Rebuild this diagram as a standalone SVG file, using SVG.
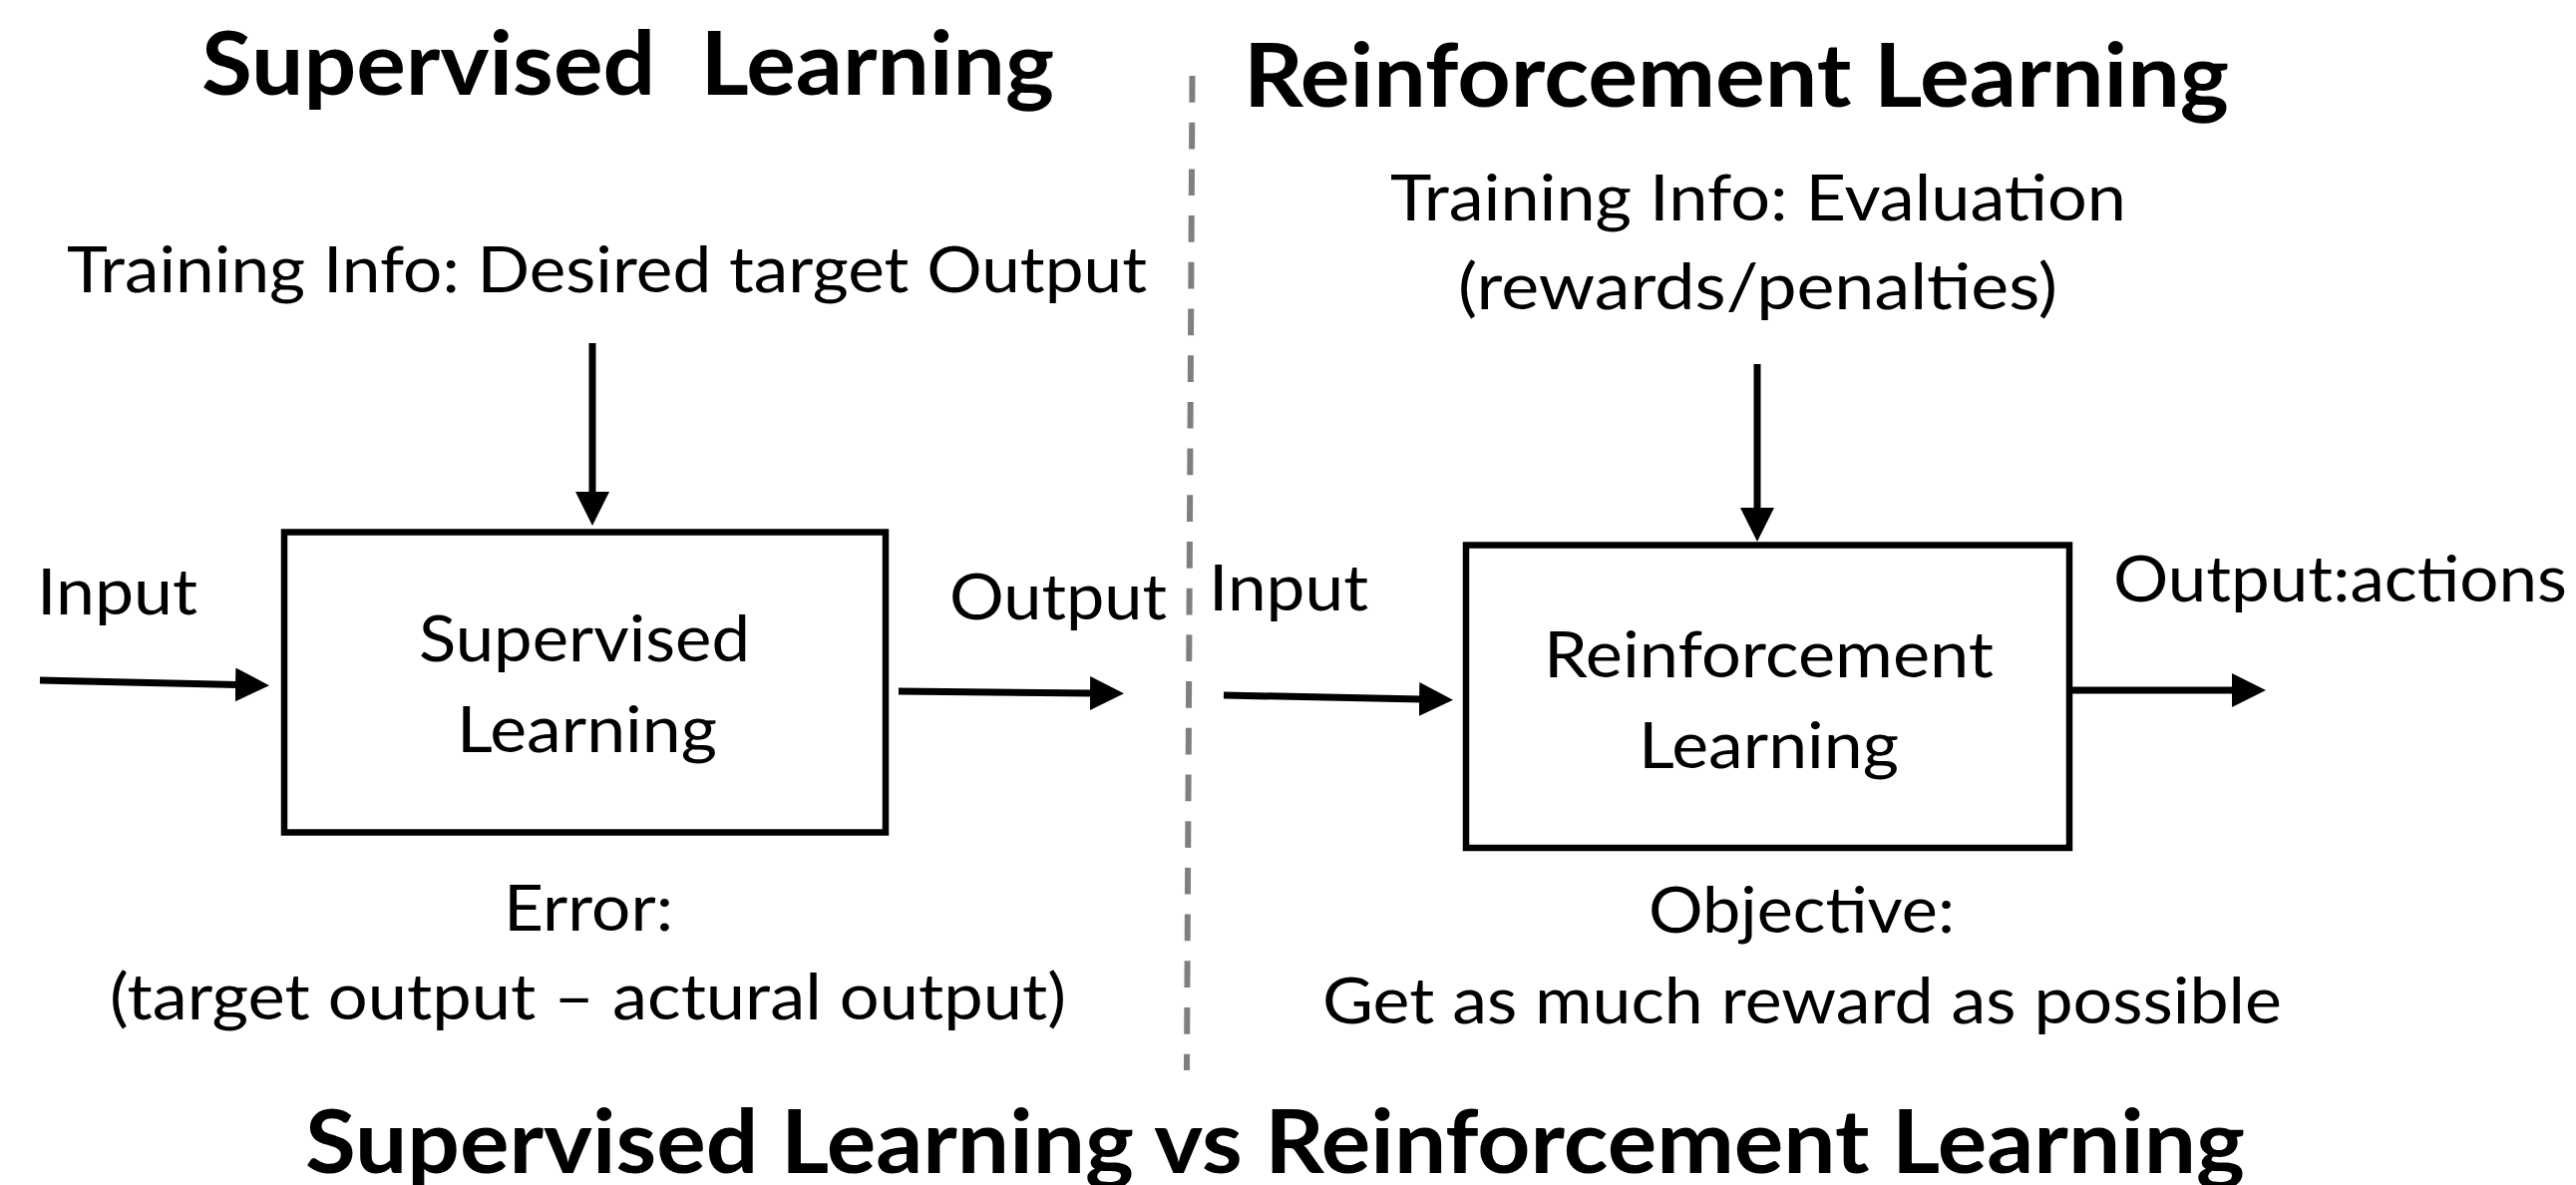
<svg xmlns="http://www.w3.org/2000/svg" width="2583" height="1188" viewBox="0 0 2583 1188">
<style>
  text { font-family: Lato, "Open Sans", "Liberation Sans", sans-serif; fill: #000; }
  .t { font-size: 64px; }
  .h { font-size: 88px; font-weight: bold; }
  .box { fill: none; stroke: #000; stroke-width: 6.5; }
  .arr { stroke: #000; stroke-width: 7; fill: none; marker-end: url(#ah); }
  .div { stroke: #7f7f7f; stroke-width: 6; stroke-dasharray: 26.7 20; fill: none; }
</style>
<defs>
  <marker id="ah" markerUnits="userSpaceOnUse" markerWidth="35" markerHeight="35" refX="2" refY="17" orient="auto" viewBox="0 0 35 35">
    <path d="M0,0 L34,17 L0,34 Z" fill="#000"/>
  </marker>
</defs>
<rect width="2583" height="1188" fill="#fff"/>

<g id="titles">
  <text class="h" x="202" y="95" textLength="855" lengthAdjust="spacingAndGlyphs" xml:space="preserve">Supervised  Learning</text>
  <text class="h" x="1247" y="107" textLength="988" lengthAdjust="spacingAndGlyphs">Reinforcement Learning</text>
  <text class="h" x="306" y="1176" textLength="1945" lengthAdjust="spacingAndGlyphs">Supervised Learning vs Reinforcement Learning</text>
</g>

<g id="divider">
  <line class="div" x1="1195.5" y1="76" x2="1190" y2="1073"/>
</g>

<g id="sl-training-info">
  <text class="t" x="67" y="293" textLength="1083" lengthAdjust="spacingAndGlyphs">Training Info: Desired target Output</text>
</g>
<g id="sl-input">
  <text class="t" x="37" y="616" textLength="161" lengthAdjust="spacingAndGlyphs">Input</text>
</g>
<g id="sl-box">
  <rect class="box" x="285" y="533.5" width="603" height="301"/>
  <text class="t" x="420" y="663" textLength="332" lengthAdjust="spacingAndGlyphs">Supervised</text>
  <text class="t" x="458" y="754" textLength="261" lengthAdjust="spacingAndGlyphs">Learning</text>
</g>
<g id="sl-output">
  <text class="t" x="952" y="621" textLength="218" lengthAdjust="spacingAndGlyphs">Output</text>
</g>
<g id="sl-error">
  <text class="t" x="505" y="933" textLength="170" lengthAdjust="spacingAndGlyphs">Error:</text>
  <text class="t" x="110" y="1022" textLength="959" lengthAdjust="spacingAndGlyphs">(target output – actural output)</text>
</g>

<g id="rl-training-info">
  <text class="t" x="1394" y="221" textLength="738" lengthAdjust="spacingAndGlyphs">Training Info: Evaluation</text>
  <text class="t" x="1462" y="310" textLength="601" lengthAdjust="spacingAndGlyphs">(rewards/penalties)</text>
</g>
<g id="rl-input">
  <text class="t" x="1212" y="612" textLength="160" lengthAdjust="spacingAndGlyphs">Input</text>
</g>
<g id="rl-box">
  <rect class="box" x="1470" y="546.5" width="605" height="303.5"/>
  <text class="t" x="1548" y="679" textLength="451" lengthAdjust="spacingAndGlyphs">Reinforcement</text>
  <text class="t" x="1643" y="770" textLength="261" lengthAdjust="spacingAndGlyphs">Learning</text>
</g>
<g id="rl-output">
  <text class="t" x="2119" y="603" textLength="455" lengthAdjust="spacingAndGlyphs">Output:actions</text>
</g>
<g id="rl-objective">
  <text class="t" x="1653" y="935" textLength="307" lengthAdjust="spacingAndGlyphs">Objective:</text>
  <text class="t" x="1326" y="1026" textLength="962" lengthAdjust="spacingAndGlyphs">Get as much reward as possible</text>
</g>

<g id="connectors">
  <line class="arr" x1="594" y1="344" x2="594" y2="495"/>
  <line class="arr" x1="40" y1="682" x2="238" y2="686.5"/>
  <line class="arr" x1="901" y1="693" x2="1095" y2="695"/>
  <line class="arr" x1="1762" y1="365" x2="1762" y2="511"/>
  <line class="arr" x1="1227" y1="697" x2="1425" y2="701"/>
  <line class="arr" x1="2078" y1="692" x2="2240" y2="692"/>
</g>
</svg>
